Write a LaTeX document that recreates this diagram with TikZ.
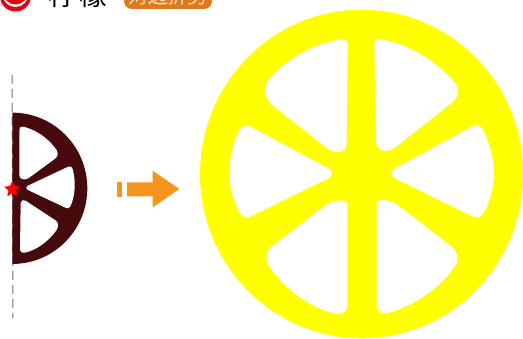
\documentclass[tikz,border=0pt]{standalone}
\usepackage{fontspec}
\newfontfamily\cjk{Noto Sans CJK SC}
\usetikzlibrary{shapes.geometric}
\definecolor{wheelyellow}{HTML}{FFFF00}
\definecolor{wheeldark}{HTML}{470A0C}
\definecolor{arroworange}{HTML}{F7941E}
\definecolor{badgeorange}{HTML}{DE7A1E}
\definecolor{logored}{HTML}{E60012}
\tikzset{
  hole/.style={fill=white,draw=none},
  zoomR/.style={x=0.3333pt,y=-0.3333pt,xshift=190pt,yshift=-10pt},
  zoomL/.style={x=0.3333pt,y=-0.3333pt,xshift=0pt,yshift=-70pt},
}
\begin{document}
\begin{tikzpicture}[x=1pt,y=-1pt]
\useasboundingbox (0,0) rectangle (523,339);
\fill[white] (0,0) rectangle (523,339);
% header, cut off by the top edge
\begin{scope}
\clip (0,0) rectangle (523,339);
\fill[logored] (15.5,-4) circle (15.5);
\fill[white] (15.5,-6) circle (13);
\fill[logored] (15.5,-8) circle (12.5);
\node[font=\cjk\fontsize{28}{28}\selectfont,text=black,anchor=center] (title) at (78,-5) {柠\kern3pt檬};
\fill[badgeorange,rounded corners=8pt] (124,-14) rectangle (212,9);
\node[font=\cjk\fontsize{20}{20}\selectfont,text=white!80!orange,anchor=center] (badge) at (168,-4) {对边折剪};
\end{scope}
% yellow wheel
\begin{scope}[zoomR]
\fill[wheelyellow] (515,492) ellipse [x radius=485,y radius=493];
\fill[hole] (570,88) .. controls (650,100) and (740,150) .. (800,225) .. controls (808,240) and (805,262) .. (790,275) -- (625,405) .. controls (600,425) and (575,430) .. (562,410) .. controls (558,400) and (558,390) .. (558,380) -- (553,100) .. controls (553,92) and (560,87) .. (570,88) -- cycle;
\fill[hole] (455,88) .. controls (370,100) and (280,150) .. (232,215) .. controls (222,235) and (222,255) .. (240,280) -- (405,410) .. controls (425,428) and (450,432) .. (465,418) .. controls (472,410) and (470,400) .. (470,390) -- (473,105) .. controls (473,92) and (465,87) .. (455,88) -- cycle;
\fill[hole] (615,475) -- (845,350) .. controls (858,343) and (872,345) .. (878,358) .. controls (900,400) and (912,450) .. (912,490) .. controls (912,530) and (900,575) .. (880,610) .. controls (872,622) and (860,625) .. (845,618) -- (615,505) .. controls (600,497) and (600,483) .. (615,475) -- cycle;
\fill[hole] (415,475) -- (185,352) .. controls (170,345) and (155,347) .. (148,360) .. controls (128,400) and (118,450) .. (118,490) .. controls (118,530) and (130,575) .. (150,610) .. controls (158,623) and (170,625) .. (185,618) -- (415,505) .. controls (430,497) and (430,483) .. (415,475) -- cycle;
\fill[hole] (575,570) .. controls (600,570) and (615,578) .. (630,590) -- (785,710) .. controls (803,725) and (808,745) .. (797,765) .. controls (750,835) and (670,890) .. (590,910) .. controls (570,912) and (560,900) .. (560,885) -- (560,590) .. controls (560,578) and (565,570) .. (575,570) -- cycle;
\fill[hole] (460,572) .. controls (435,570) and (420,575) .. (400,590) -- (245,710) .. controls (228,725) and (225,745) .. (235,765) .. controls (280,835) and (360,895) .. (440,912) .. controls (460,914) and (472,900) .. (472,885) -- (472,590) .. controls (472,578) and (470,572) .. (460,572) -- cycle;
\end{scope}
% half wheel
\begin{scope}[zoomL]
\draw[black!55,line width=1pt,dash pattern=on 9pt off 5pt] (36,15) -- (39,745);
\fill[wheeldark] (37,128) arc[start angle=-90,end angle=90,x radius=225,y radius=227,y=1pt] -- cycle;
\fill[hole] (70,170) .. controls (110,180) and (145,205) .. (170,240) .. controls (177,255) and (172,262) .. (160,270) -- (85,325) .. controls (72,332) and (58,328) .. (58,315) -- (58,185) .. controls (58,172) and (62,168) .. (70,170) -- cycle;
\fill[hole] (88,345) -- (205,290) .. controls (212,287) and (216,290) .. (218,297) .. controls (228,335) and (226,375) .. (212,408) .. controls (208,416) and (203,417) .. (196,413) -- (88,362) .. controls (76,357) and (76,350) .. (88,345) -- cycle;
\fill[hole] (62,400) .. controls (62,392) and (68,388) .. (78,393) -- (165,450) .. controls (175,457) and (177,465) .. (170,480) .. controls (145,515) and (110,540) .. (75,548) .. controls (65,550) and (60,545) .. (60,535) -- cycle;
\node[star,star points=5,star point ratio=2.1,fill=red,draw=none,inner sep=0pt,minimum size=17pt] (fold) at (37,358) {};
% arrow
\fill[arroworange] (352,335) rectangle (367,380);
\fill[arroworange] (381,337) -- (458,337) -- (458,302) -- (538,357) -- (458,412) -- (458,379) -- (381,379) -- cycle;
\end{scope}
\end{tikzpicture}
\end{document}
